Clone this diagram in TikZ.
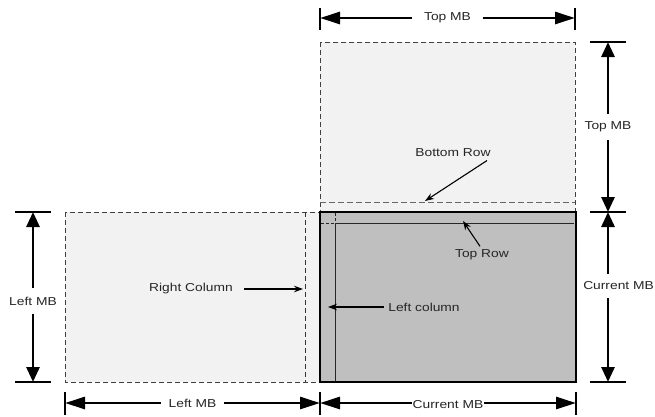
\documentclass[tikz,border=0pt]{standalone}
\usepackage{fontspec}
\setsansfont[FakeStretch=1.2]{Liberation Sans}
\usetikzlibrary{arrows.meta}
\tikzset{
    every node/.style={font=\sffamily\fontsize{11.5}{13}\selectfont,text=black!85},
    mbbox/.style={fill=black!5,draw=black!75,dash pattern=on 5pt off 3pt,line width=.9pt},
    hdim/.style={line width=2.8pt,
        {Triangle[length=20pt,width=12pt]}-{Triangle[length=20pt,width=12pt]}},
    vdim/.style={line width=2.8pt,
        {Triangle[length=15pt,width=13pt]}-{Triangle[length=15pt,width=13pt]}},
    dimtick/.style={line width=2.6pt},
    gap/.style={fill=white,inner xsep=12pt,inner ysep=6pt},
    ptr/.style={-{Stealth[length=9pt,width=6.5pt]},line width=1.1pt}
}
\begin{document}
\begin{tikzpicture}[x=1pt,y=-1pt]
    \useasboundingbox (0,0) rectangle (655,416);
    % neighbouring macroblocks
    \draw[mbbox] (320,42) rectangle (575,212);
    \draw[mbbox] (65,212) rectangle (320,382);
    \draw[black!60,dash pattern=on 6pt off 3pt,line width=.9pt] (320,202) -- (575,202);
    \draw[black!80,dash pattern=on 5pt off 3pt,line width=.9pt] (305,212) -- (305,382);
    % current macroblock
    \fill[black!25] (320,212) rectangle (576,382);
    \draw[black!85,line width=.9pt] (335,223) -- (574,223);
    \draw[black!85,line width=.9pt] (335,223) -- (335,381);
    \draw[black!85,densely dashed,line width=.9pt] (321,223) -- (335,223) (335,213) -- (335,223);
    \draw[line width=2.6pt] (320,212) rectangle (576,382);
    % dimensions
    \draw[dimtick] (320,8) -- (320,30) (575,8) -- (575,30);
    \draw[dimtick] (590,42) -- (626,42) (590,212) -- (626,212) (590,382) -- (626,382);
    \draw[dimtick] (15,212) -- (51,212) (15,382) -- (51,382);
    \draw[dimtick] (65,392) -- (65,415) (320,392) -- (320,415) (576,392) -- (576,415);
    \coordinate (tw) at (320,18);  \coordinate (te) at (575,18);
    \coordinate (rt) at (608,42);  \coordinate (rm) at (608,212);
    \coordinate (rb) at (608,382);
    \coordinate (lt) at (33,212);  \coordinate (lb) at (33,382);
    \coordinate (bw) at (65,403);  \coordinate (bm) at (320,403);
    \coordinate (be) at (576,403);
    \draw[hdim] (tw) -- node[gap] (toplen) {Top MB} (te);
    \draw[vdim] (rt) -- node[gap,inner xsep=1pt,inner ysep=8pt] (toph) {Top MB} (rm);
    \draw[vdim] (rm) -- (rb);
    \node[gap,anchor=east,inner xsep=1pt,inner ysep=8pt] (curh) at (655,286) {Current MB};
    \draw[vdim] (lt) -- node[gap,inner xsep=2pt,inner ysep=9pt,yshift=-4pt] (lefth) {Left MB} (lb);
    \draw[hdim] (bw) -- node[gap,inner xsep=8pt,inner ysep=3pt] (leftlen) {Left MB} (bm);
    \draw[hdim] (bm) -- node[gap,inner xsep=1pt,inner ysep=3pt,yshift=-2pt] (curlen) {Current MB} (be);
    % labels
    \node (brow) at (453,153) {Bottom Row};
    \coordinate (brtip) at (425,201);
    \draw[ptr] ([xshift=34pt]brow.south) -- (brtip);
    \node (trow) at (482,255) {Top Row};
    \coordinate (trtip) at (463,221);
    \draw[ptr] ([xshift=-2pt]trow.north) -- (trtip);
    \node (rcol) at (191,289) {Right Column};
    \coordinate (rctip) at (303,289);
    \draw[ptr] ([xshift=8pt]rcol.east) -- (rctip);
    \node (lcol) at (424,307) {Left column};
    \coordinate (lctip) at (328,307);
    \draw[ptr] ([xshift=-1pt]lcol.west) -- (lctip);
\end{tikzpicture}
\end{document}
